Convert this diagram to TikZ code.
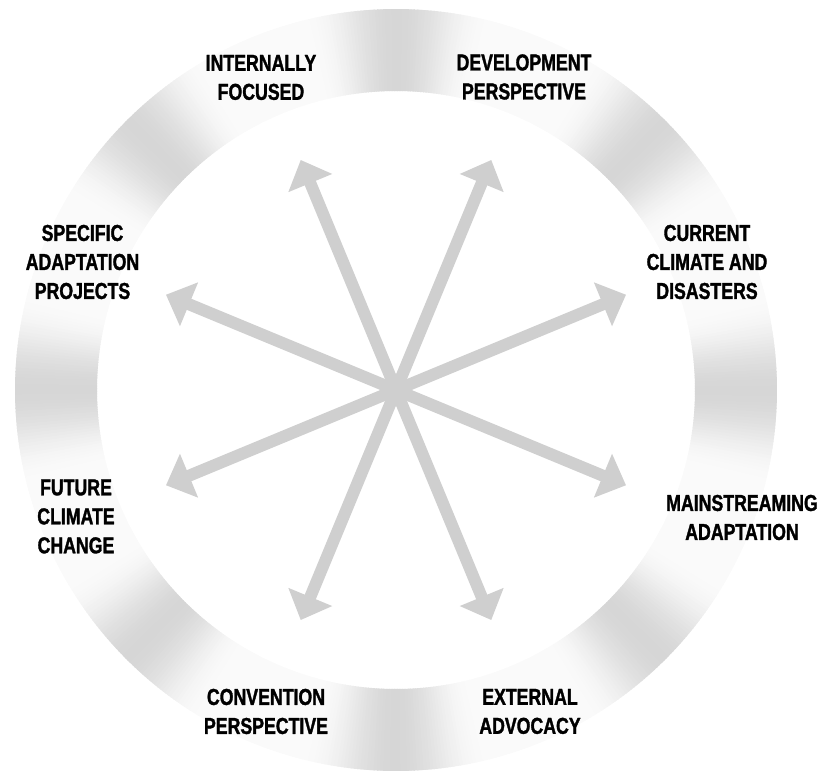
\documentclass[tikz,border=0pt]{standalone}
\usepackage{fontspec}
\usetikzlibrary{arrows.meta}
\newfontfamily\labelfont{Liberation Sans Bold}[FakeStretch=0.77,FakeBold=1.4]

\tikzset{
  spoke/.style={line width=12pt,color=black!19,-{Triangle[length=25pt,width=46pt]}},
  lbl/.style={align=center,font=\labelfont\fontsize{23}{29}\selectfont,inner sep=0pt}
}

\begin{document}
\begin{tikzpicture}[x=1pt,y=1pt]
\useasboundingbox (-396,-382) rectangle (425,390);

% shaded ring, darkest every 45 degrees
\foreach \a in {0,0.5,...,359.5}{
  \pgfmathsetmacro\d{abs(mod(\a+22.5,45)-22.5)}
  \pgfmathsetmacro\t{\d<14 ? 0.5*(1+cos(\d*180/14)) : 0}
  \pgfmathsetmacro\k{2+14*\t}
  \fill[black!\k] (\a-0.35:299) arc[start angle=\a-0.35,end angle=\a+0.35,radius=299]
    -- (\a+0.35:381) arc[start angle=\a+0.35,end angle=\a-0.35,radius=381] -- cycle;
}

% spokes
\coordinate (c) at (0,0);
\foreach \n/\ang in {cur/22.5,dev/67.5,int/112.5,spe/157.5,fut/202.5,con/247.5,ext/292.5,mai/337.5}{
  \coordinate (t\n) at (\ang:249);
  \draw[spoke] (c) -- (t\n);
}

% labels
\node[lbl] (int) at (-135,312.5) {INTERNALLY\\FOCUSED};
\node[lbl] (dev) at (128,313) {DEVELOPMENT\\PERSPECTIVE};
\node[lbl] (cur) at (311,128) {CURRENT\\CLIMATE AND\\DISASTERS};
\node[lbl] (spe) at (-313.5,128) {SPECIFIC\\ADAPTATION\\PROJECTS};
\node[lbl] (fut) at (-320,-126.5) {FUTURE\\CLIMATE\\CHANGE};
\node[lbl] (mai) at (346,-127.5) {MAINSTREAMING\\ADAPTATION};
\node[lbl] (con) at (-130,-321.5) {CONVENTION\\PERSPECTIVE};
\node[lbl] (ext) at (134,-321.5) {EXTERNAL\\ADVOCACY};
\end{tikzpicture}
\end{document}
